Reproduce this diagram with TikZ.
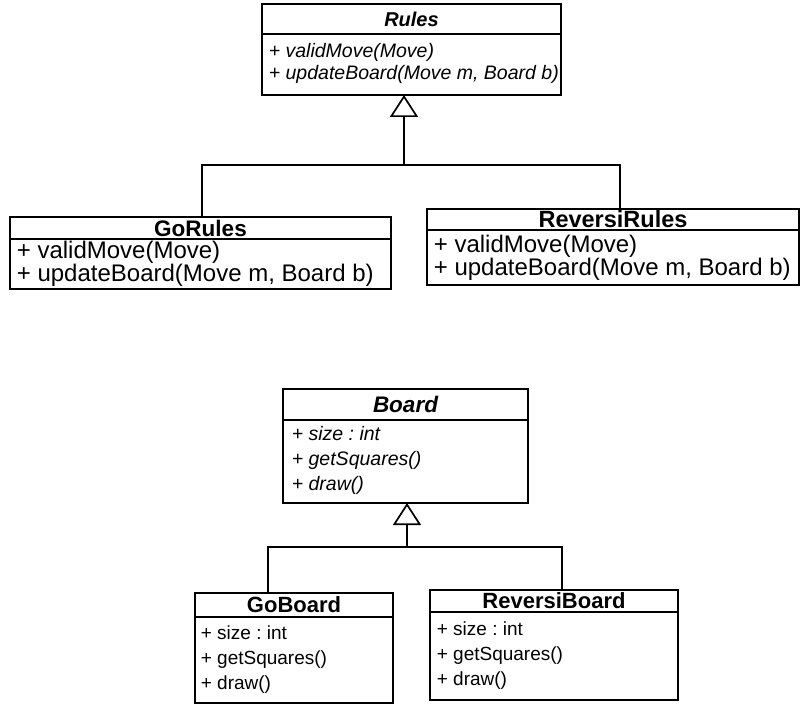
\documentclass[tikz,border=0pt]{standalone}
\usepackage{fontspec}
\setmainfont{Liberation Sans}
\usetikzlibrary{arrows.meta}
\frenchspacing
\begin{document}
\begin{tikzpicture}[x=1pt,y=-1pt,line width=1.7pt,
  box/.style={draw,rectangle,inner sep=0pt,outer sep=0pt,anchor=north west},
  rows/.style={anchor=west,align=left,inner sep=0pt},
  gen/.style={-{Triangle[open,length=22pt,width=28pt,line width=1.7pt]}}]
\useasboundingbox (0,0) rectangle (805,706);
\fill[white] (0,0) rectangle (805,706);
% Rules
\node[box,minimum width=299pt,minimum height=30pt,font={\fontsize{20}{24}\selectfont\bfseries\itshape}] (rulesT) at (262,4) {Rules};
\node[box,minimum width=299pt,minimum height=61pt] (rulesB) at (262,34) {};
\node[rows,font={\fontsize{19.5}{22}\selectfont\itshape}] (rulesR) at ([xshift=6pt,yshift=1pt]rulesB.west) {+ validMove(Move)\\ + updateBoard(Move m, Board b)};
% GoRules
\node[box,minimum width=381pt,minimum height=22pt,font={\fontsize{22.5}{26}\selectfont\bfseries}] (goT) at (10,217) {GoRules};
\node[box,minimum width=381pt,minimum height=50pt] (goB) at (10,239) {};
\node[rows,font={\fontsize{24}{23}\selectfont}] (goR) at ([xshift=6pt]goB.west) {+ validMove(Move)\\ + updateBoard(Move m, Board b)};
% ReversiRules
\node[box,minimum width=372pt,minimum height=21pt,font={\fontsize{23.5}{26}\selectfont\bfseries}] (revT) at (427,209) {ReversiRules};
\node[box,minimum width=372pt,minimum height=55pt] (revB) at (427,230) {};
\node[rows,font={\fontsize{24}{23}\selectfont}] (revR) at ([xshift=6pt]revB.west) {+ validMove(Move)\\ + updateBoard(Move m, Board b)};
% Board
\node[box,minimum width=245pt,minimum height=31pt,font={\fontsize{22.5}{26}\selectfont\bfseries\itshape}] (boardT) at (283,389) {Board};
\node[box,minimum width=245pt,minimum height=83pt] (boardB) at (283,420) {};
\node[rows,font={\fontsize{19.5}{25}\selectfont\itshape}] (boardR) at ([xshift=8pt,yshift=1pt]boardB.west) {+ size : int\\ + getSquares()\\ + draw()};
% GoBoard
\node[box,minimum width=198pt,minimum height=24pt,font={\fontsize{22}{26}\selectfont\bfseries}] (gobT) at (195,593) {GoBoard};
\node[box,minimum width=198pt,minimum height=86pt] (gobB) at (195,617) {};
\node[rows,font={\fontsize{19}{25}\selectfont}] (gobR) at ([xshift=5pt]gobB.west) {+ size : int\\ + getSquares()\\ + draw()};
% ReversiBoard
\node[box,minimum width=248pt,minimum height=22pt,font={\fontsize{22}{26}\selectfont\bfseries}] (revbT) at (430,590) {ReversiBoard};
\node[box,minimum width=248pt,minimum height=88pt] (revbB) at (430,612) {};
\node[rows,font={\fontsize{19}{25}\selectfont}] (revbR) at ([xshift=6pt]revbB.west) {+ size : int\\ + getSquares()\\ + draw()};
% generalisations
\coordinate (j1) at (404,165);
\draw[gen] (j1) -- (j1 |- rulesB.south);
\draw ([xshift=1.5pt]goT.north) |- (j1) -| ([xshift=7pt]revT.north);
\coordinate (j2) at (407,547);
\draw[gen] (j2) -- (j2 |- boardB.south);
\draw ([xshift=-26pt]gobT.north) |- (j2) -| ([xshift=8pt]revbT.north);
\end{tikzpicture}
\end{document}
